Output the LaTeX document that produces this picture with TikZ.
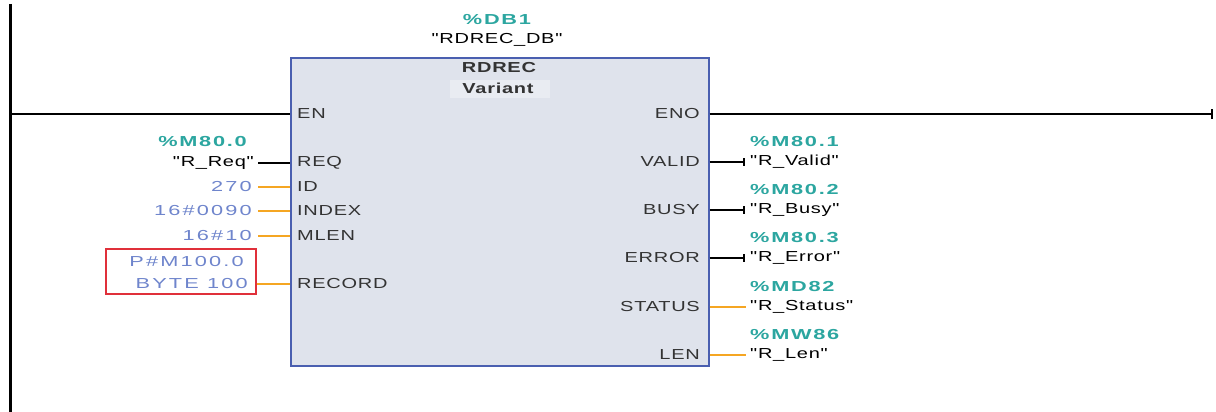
\documentclass[tikz,border=0pt]{standalone}
\usepackage{fontspec}
\setmainfont{Liberation Sans}
\newfontfamily\pinfont[FakeStretch=1.38,LetterSpace=5]{Liberation Sans}
\newfontfamily\addrfont[FakeStretch=1.5,LetterSpace=12]{Liberation Sans}
\newfontfamily\valfont[FakeStretch=1.5,LetterSpace=15]{Liberation Sans}
\definecolor{teal1}{HTML}{2CA6A0}
\definecolor{val}{HTML}{6F85CC}
\definecolor{wireo}{HTML}{F5A623}
\definecolor{redbox}{HTML}{E0303A}
\definecolor{boxfill}{HTML}{DFE3EC}
\definecolor{boxline}{HTML}{4A5FB0}
\definecolor{varfill}{HTML}{E9ECF2}
\definecolor{pin}{HTML}{333333}
\begin{document}
\begin{tikzpicture}[x=1pt,y=-1pt,
  every node/.style={font=\pinfont\fontsize{14.5}{16}\selectfont, inner sep=0pt},
  pinl/.style={anchor=west, text=pin},
  pinr/.style={anchor=east, text=pin},
  addr/.style={text=teal1, font=\addrfont\fontsize{14.5}{16}\selectfont\bfseries},
  tag/.style={text=black},
  valtxt/.style={text=val, anchor=east, font=\valfont\fontsize{14.5}{16}\selectfont},
  bwire/.style={draw=black, line width=1.6pt},
  owire/.style={draw=wireo, line width=1.6pt},
  tick/.style={draw=black, line width=2.2pt},
  rail/.style={draw=black, line width=1.4pt}]
\useasboundingbox (0,0) rectangle (1216,412);
% power rail
\draw[black, line width=3pt] (10,4) -- (10,412);
% block
\node[draw=boxline, fill=boxfill, line width=1.6pt, minimum width=418pt, minimum height=308pt, anchor=north west] (fb) at (290,57) {};
\node[fill=varfill, minimum width=100pt, minimum height=18pt] (varbox) at (500,89) {};
\node[text=pin, font=\pinfont\fontsize{14.5}{16}\selectfont\bfseries] (title) at (499,68) {RDREC};
\node[text=pin, font=\pinfont\fontsize{14.5}{16}\selectfont\bfseries] (variant) at (498,88) {Variant};
\node[addr] (db) at (497,20) {\%DB1};
\node[tag] (dbname) at (497,40) {"RDREC\_DB"};
% power line
\coordinate (railEN) at (10,114);
\coordinate (railEnd) at (1212,114);
% input pins
\node[pinl] (EN) at (297,114) {EN};
\node[pinl] (REQ) at (297,163) {REQ};
\node[pinl] (ID) at (297,187) {ID};
\node[pinl] (INDEX) at (297,211) {INDEX};
\node[pinl] (MLEN) at (297,236) {MLEN};
\node[pinl] (RECORD) at (297,284) {RECORD};
% output pins
\node[pinr] (ENO) at (700,114) {ENO};
\node[pinr] (VALID) at (700,162) {VALID};
\node[pinr] (BUSY) at (700,210) {BUSY};
\node[pinr] (ERROR) at (700,258) {ERROR};
\node[pinr] (STATUS) at (700,307) {STATUS};
\node[pinr] (LEN) at (700,355) {LEN};
\draw[rail] (railEN) -- (fb.west |- EN);
\draw[rail] (fb.east |- ENO) -- (railEnd);
\draw[black, line width=1.4pt] (1212,109) -- (1212,119);
% input parameters
\node[addr, anchor=east] (m800) at (247,142) {\%M80.0};
\node[tag, anchor=east] (rreq) at (254,163) {"R\_Req"};
\draw[bwire] (258,163) -- (fb.west |- REQ);
\node[valtxt] (v270) at (252,187) {270};
\draw[owire] (258,187) -- (fb.west |- ID);
\node[valtxt] (v90) at (252,211) {16\#0090};
\draw[owire] (258,211) -- (fb.west |- INDEX);
\node[valtxt] (v10) at (252,236) {16\#10};
\draw[owire] (258,236) -- (fb.west |- MLEN);
\node[valtxt] (pm) at (244,262) {P\#M100.0};
\node[valtxt] (byte) at (248,284) {BYTE 100};
\node[draw=redbox, line width=1.6pt, minimum width=150pt, minimum height=45pt, anchor=north west] (red) at (105,248) {};
\draw[owire] (red.east |- RECORD) -- (fb.west |- RECORD);
% output parameters
\foreach \p/\y/\a/\t in {VALID/162/\%M80.1/"R\_Valid", BUSY/210/\%M80.2/"R\_Busy", ERROR/258/\%M80.3/"R\_Error", STATUS/307/\%MD82/"R\_Status", LEN/355/\%MW86/"R\_Len"}{
  \node[addr, anchor=west] (a\p) at (750,\y-20) {\a};
  \node[tag, anchor=west] (t\p) at (750,\y) {\t};
}
\draw[bwire] (fb.east |- VALID) -- (744,162);
\draw[tick] (744,158) -- (744,166);
\draw[bwire] (fb.east |- BUSY) -- (744,210);
\draw[tick] (744,206) -- (744,214);
\draw[bwire] (fb.east |- ERROR) -- (744,258);
\draw[tick] (744,254) -- (744,262);
\draw[owire] (fb.east |- STATUS) -- (746,307);
\draw[owire] (fb.east |- LEN) -- (746,355);
\end{tikzpicture}
\end{document}
